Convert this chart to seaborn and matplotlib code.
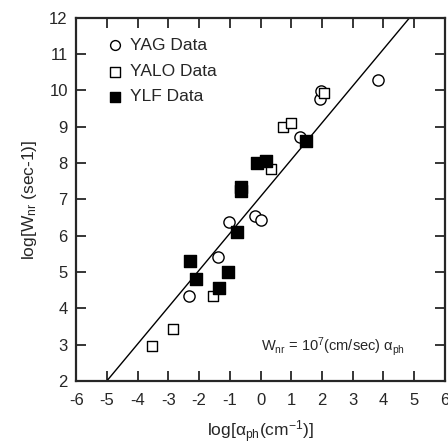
import numpy as np
import pandas as pd
import seaborn as sns
import matplotlib.pyplot as plt

# values
yag_x = [3.82, 1.93, 1.98, 1.28, -0.18, 0.0, -1.02, -1.38, -2.32]
yag_y = [10.29, 9.76, 9.99, 8.72, 6.54, 6.44, 6.38, 5.41, 4.33]

yalo_x = [2.08, 0.74, 0.98, 0.33, -1.55, -2.85, -3.52]
yalo_y = [9.92, 8.99, 9.09, 7.83, 4.33, 3.43, 2.95]

ylf_x = [1.49, -0.13, 0.17, -0.65, -0.63, -0.77, -2.28, -1.06, -2.10, -1.36]
ylf_y = [8.60, 8.00, 8.07, 7.33, 7.24, 6.09, 5.29, 5.00, 4.81, 4.57]

# W_nr = 1e7 * alpha_ph  ->  log W = 7 + log alpha
fit_x = [-5.0, 4.85]
fit_y = [2.0, 12.0]

sns.set_style("ticks")
plt.rcParams['font.family'] = ['Liberation Sans', 'DejaVu Sans']
plt.rcParams['mathtext.fontset'] = 'custom'
plt.rcParams['mathtext.rm'] = 'Liberation Sans'
plt.rcParams['mathtext.it'] = 'Liberation Sans'
plt.rcParams['axes.unicode_minus'] = False

fig = plt.figure(figsize=(4.48, 4.46), dpi=100)
ax = fig.add_axes([0.170, 0.146, 0.823, 0.814])

sns.lineplot(x=fit_x, y=fit_y, ax=ax, color='black', linewidth=1.0)

sns.scatterplot(x=yag_x, y=yag_y, ax=ax, marker='o', s=65,
                facecolor='white', edgecolor='black', linewidth=1.0, zorder=3)
sns.scatterplot(x=yalo_x, y=yalo_y, ax=ax, marker='s', s=60,
                facecolor='white', edgecolor='black', linewidth=1.0, zorder=3)
sns.scatterplot(x=ylf_x, y=ylf_y, ax=ax, marker='s', s=70,
                facecolor='black', edgecolor='black', linewidth=1.0, zorder=4)

# legend, drawn by hand to mimic the original layout
leg_labels = ['YAG Data', 'YALO Data', 'YLF Data']
leg_y = [11.25, 10.52, 9.83]
ax.scatter([-4.75], [leg_y[0]], marker='o', s=50, facecolor='white', edgecolor='black', linewidth=1.0)
ax.scatter([-4.75], [leg_y[1]], marker='s', s=45, facecolor='white', edgecolor='black', linewidth=1.0)
ax.scatter([-4.75], [leg_y[2]], marker='s', s=50, facecolor='black', edgecolor='black')
for lab, yy in zip(leg_labels, leg_y):
    ax.text(-4.25, yy, lab, fontsize=12.5, va='center', ha='left')

ax.text(0.0, 2.95, r'W$_{\rm nr}$ = 10$^{7}$(cm/sec) $\alpha_{\rm ph}$',
        fontsize=10.5, va='center', ha='left')

ax.set_xlim(-6, 6)
ax.set_ylim(2, 12)
ax.set_xticks(np.arange(-6, 7, 1))
ax.set_yticks(np.arange(2, 13, 1))
ax.tick_params(direction='in', top=True, right=True, length=7, width=1.3,
               labelsize=12, pad=6)
ax.tick_params(axis='x', pad=9)
for sp in ax.spines.values():
    sp.set_linewidth(1.6)
    sp.set_visible(True)

ax.set_xlabel(r'log[$\alpha_{\rm ph}$(cm$^{-1}$)]', fontsize=12.5, labelpad=7)
ax.set_ylabel(r'log[W$_{\rm nr}$ (sec-1)]', fontsize=12.5, labelpad=7)

fig.savefig('out.png', dpi=100)
